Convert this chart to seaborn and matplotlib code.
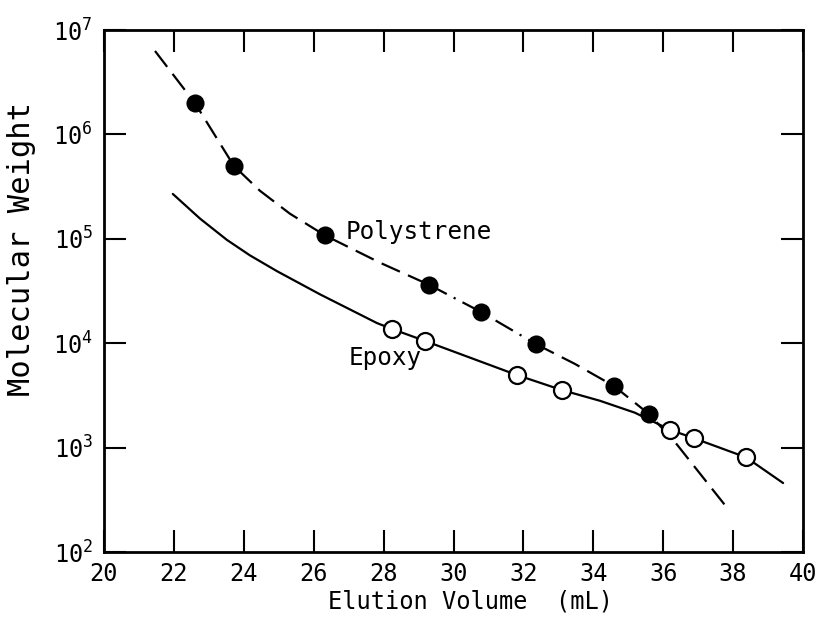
import matplotlib
matplotlib.use("Agg")
import matplotlib.pyplot as plt
import matplotlib.ticker as mticker
import pandas as pd
import seaborn as sns

# Calibration standards: measured elution volumes (mL) and molecular weights
ps_volume = [22.60, 23.72, 26.32, 29.30, 30.79, 32.36, 34.59, 35.59]
ps_mw = [2.0e6, 4.98e5, 1.08e5, 3.63e4, 1.99e4, 9.8e3, 3.89e3, 2.10e3]

epoxy_volume = [28.24, 29.19, 31.82, 33.10, 36.20, 36.88, 38.37]
epoxy_mw = [1.37e4, 1.05e4, 4.95e3, 3.56e3, 1.48e3, 1.23e3, 8.07e2]

# Smooth calibration curves traced through the standards
ps_curve_volume = [21.46, 22.60, 23.72, 24.46, 25.32, 26.32, 27.90, 29.30,
                   30.79, 32.36, 33.48, 34.59, 35.59, 36.31, 37.88]
ps_curve_mw = [6.30e6, 2.0e6, 4.98e5, 2.89e5, 1.74e5, 1.08e5, 5.90e4, 3.63e4,
               1.99e4, 9.8e3, 6.32e3, 3.89e3, 2.10e3, 1.16e3, 2.52e2]

epoxy_curve_volume = [21.97, 22.75, 23.52, 24.18, 24.95, 26.18, 27.81, 28.24,
                      29.19, 31.82, 33.10, 34.19, 35.19, 36.20, 36.88, 38.37, 39.43]
epoxy_curve_mw = [2.69e5, 1.56e5, 9.75e4, 6.93e4, 4.90e4, 2.94e4, 1.56e4, 1.37e4,
                  1.05e4, 4.95e3, 3.56e3, 2.81e3, 2.16e3, 1.48e3, 1.23e3, 8.07e2, 4.58e2]

x_ticks = [20, 22, 24, 26, 28, 30, 32, 34, 36, 38, 40]
y_ticks = [1e2, 1e3, 1e4, 1e5, 1e6, 1e7]

sns.set_style("ticks")
plt.rcParams["font.family"] = ["DejaVu Sans Mono", "DejaVu Sans"]
plt.rcParams.update({
    "text.color": "black",
    "axes.labelcolor": "black",
    "xtick.color": "black",
    "ytick.color": "black",
    "axes.edgecolor": "black",
})

fig = plt.figure(figsize=(8.2, 6.19), dpi=100)
ax = fig.add_axes([0.1268, 0.1082, 0.8525, 0.8433])
ax.set_yscale("log")

ps_curve = pd.DataFrame({"volume": ps_curve_volume, "mw": ps_curve_mw})
ep_curve = pd.DataFrame({"volume": epoxy_curve_volume, "mw": epoxy_curve_mw})

# Polystyrene fit: dashed, with a dash-dot stretch through the middle standards
i_a = ps_curve_volume.index(29.30)
i_b = ps_curve_volume.index(32.36)
segments = [
    (ps_curve.iloc[: i_a + 1], (9, 4)),
    (ps_curve.iloc[i_a: i_b + 1], (9, 3.5, 1, 3.5)),
    (ps_curve.iloc[i_b:], (9, 4)),
]
for seg, dash in segments:
    sns.lineplot(data=seg, x="volume", y="mw", ax=ax, color="black",
                 linewidth=1.6, sort=False, estimator=None)
    ax.lines[-1].set_dashes(dash)

# Epoxy fit: solid
sns.lineplot(data=ep_curve, x="volume", y="mw", ax=ax, color="black",
             linewidth=1.6, sort=False, estimator=None)

# Standards
sns.scatterplot(x=epoxy_volume, y=epoxy_mw, ax=ax, s=150, marker="o",
                facecolor="white", edgecolor="black", linewidth=1.6, zorder=5)
sns.scatterplot(x=ps_volume, y=ps_mw, ax=ax, s=170, marker="o",
                color="black", edgecolor="black", linewidth=0, zorder=6)

ax.text(26.92, 1.16e5, "Polystrene", fontsize=17.5, ha="left", va="center")
ax.text(27.01, 7.2e3, "Epoxy", fontsize=17.5, ha="left", va="center")

ax.set_xlim(20, 40)
ax.set_ylim(1e2, 1e7)
ax.set_xticks(x_ticks)
ax.set_xticklabels([str(t) for t in x_ticks])
ax.yaxis.set_major_locator(mticker.FixedLocator(y_ticks))
ax.yaxis.set_major_formatter(mticker.LogFormatterSciNotation())
ax.yaxis.set_minor_locator(mticker.NullLocator())
ax.xaxis.set_minor_locator(mticker.NullLocator())

ax.tick_params(axis="both", which="major", direction="in", length=16, width=1.5,
               labelsize=17, top=True, right=True, color="black",
               labelcolor="black")
ax.tick_params(axis="x", pad=7)
ax.tick_params(axis="y", pad=8)
for sp in ax.spines.values():
    sp.set_visible(True)
    sp.set_linewidth(2.0)
    sp.set_color("black")

ax.set_xlabel("Elution Volume  (mL)", fontsize=17)
ax.set_ylabel("Molecular Weight", fontsize=22)
ax.xaxis.set_label_coords(0.524, -0.072)
ax.yaxis.set_label_coords(-0.097, 0.58)

fig.savefig("out.png", dpi=100, facecolor="white")
